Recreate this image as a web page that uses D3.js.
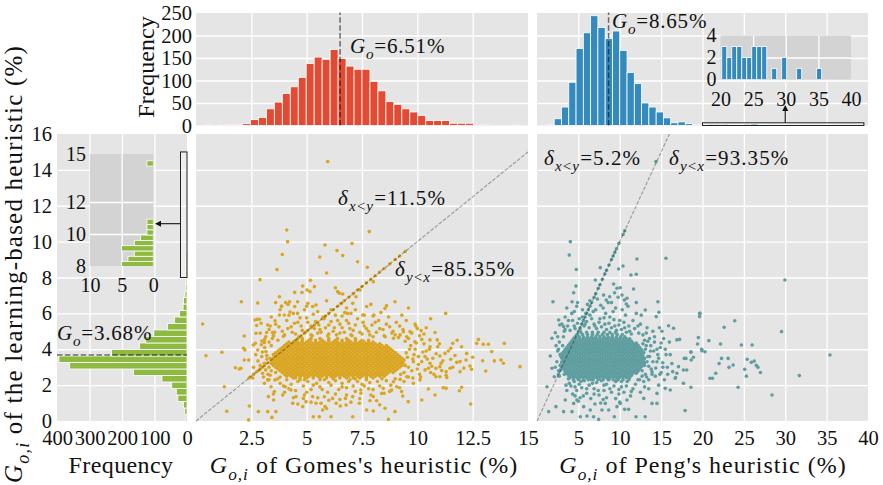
<!DOCTYPE html>
<html><head><meta charset="utf-8">
<script src="https://cdn.jsdelivr.net/npm/d3@7"></script>
<style>body{margin:0;background:#fff}</style>
</head><body><svg id="c" width="883" height="485"></svg>
<script>
// ---------------- DATA ----------------
const gomesHistStart = 0.3, gomesHistWidth = 0.36;
const gomesCounts = [1,0,1,1,2,4,13,18,37,52,71,86,107,138,152,147,169,149,132,125,125,98,77,53,47,37,30,22,11,11,11,5,5,5,0,2,0,0,0,1];
const pengHistStart = 1.2, pengHistWidth = 0.88;
const pengCounts = [2,15,41,96,171,206,244,218,193,210,167,118,93,50,41,30,17,6,8,4,2,2,3,3,3,2,2,3,4,2,1,0,2,0,1,0,0,0,1,0];
const learnHistStart = 0, learnHistWidth = 0.3625;
const learnCounts = [3,7,11,28,33,47,77,165,361,394,232,146,127,102,60,38,23,12,11,6,4,3,5,4,3,5,2,2,1,1,0,0,0,0,0,0,0,0,0,1];
const pengInsetStart = 20.2, pengInsetWidth = 0.765;
const pengInsetCounts = [3,2,3,3,2,2,3,3,3,0,1,0,2,0,0,1,0,0,0,1];
const learnInsetStart = 7.945, learnInsetWidth = 0.3315;
const learnInsetCounts = [5,4,3,5,3,2,1,1,1,0,0,0,0,0,0,0,0,0,0,1];
const means = {gomes: 6.51, peng: 8.65, learn: 3.68};
const deltas = {gomesXY: "11.5%", gomesYX: "85.35%", pengXY: "5.2%", pengYX: "93.35%"};

const gomesTicks = [2.5, 5, 7.5, 10, 12.5, 15];
const pengTicks = [5, 10, 15, 20, 25, 30, 35, 40];
const yTicks = [0, 2, 4, 6, 8, 10, 12, 14, 16];
const freqTicks = [0, 50, 100, 150, 200, 250];
const leftFreqTicks = [400, 300, 200, 100, 0];
const pengInsetXTicks = [20, 25, 30, 35, 40];
const pengInsetYTicks = [0, 2, 4];
const learnInsetXTicks = [10, 5, 0];
const learnInsetYTicks = [8, 10, 12, 15];

// scattered points (x = heuristic, y = learning-based)
const gomesPts = [[5.95,14.46],[4.1,10.65],[4.14,10.0],[5.83,9.81],[6.37,9.5],[7.05,9.89],[6.63,9.22],[5.59,9.14],[3.9,9.28],[7.3,8.88],[3.66,8.44],[5.9,8.25],[2.89,7.88],[5.17,7.84],[2.05,6.65],[2.79,6.58],[0.3,5.41],[0.45,3.64],[1.17,3.83],[1.28,1.91],[1.39,0.54],[2.41,0.84],[2.82,0.52],[3.43,0.2],[2.38,0.06],[2.18,4.74],[1.78,2.97],[1.96,2.9],[2.03,2.94],[2.18,3.4],[2.38,3.4],[2.15,4.05],[2.21,3.96],[2.56,2.4],[2.67,5.63],[2.76,5.67],[2.86,5.67],[2.74,5.32],[2.71,4.89],[2.68,4.33],[2.59,4.24],[2.79,3.96],[3.27,1.36],[3.51,1.17],[3.61,0.52],[3.24,0.52],[3.09,2.1],[3.39,1.91],[3.77,6.93],[4.05,6.6],[3.87,6.41],[4.16,6.5],[4.23,6.65],[4.46,7.17],[4.59,6.65],[4.82,7.53],[4.79,7.16],[5.02,7.3],[5.35,7.49],[5.15,7.21],[5.05,6.56],[5.27,6.38],[5.42,6.47],[6.3,7.43],[6.4,7.21],[6.48,7.12],[6.63,7.08],[6.57,6.56],[6.72,6.04],[6.85,6.0],[7.08,6.56],[7.23,6.93],[7.41,7.3],[7.53,5.91],[3.86,6.38],[4.46,6.38],[3.77,5.91],[3.99,5.91],[4.25,6.08],[4.59,6.0],[2.94,5.45],[3.24,5.35],[3.57,5.59],[3.19,4.93],[3.46,4.93],[2.97,4.46],[3.09,4.37],[3.16,3.87],[2.97,3.59],[3.09,3.22],[2.86,2.84],[3.01,2.66],[3.24,2.29],[3.57,2.29],[3.54,1.64],[3.92,1.45],[4.04,1.91],[4.29,1.73],[4.52,1.36],[4.37,0.99],[4.82,0.8],[4.97,1.08],[4.85,1.26],[5.27,1.36],[5.42,0.99],[5.65,0.99],[5.3,0.24],[5.57,0.24],[6.1,0.24],[5.72,0.61],[5.83,0.8],[6.17,1.26],[6.33,0.99],[6.52,0.84],[6.78,0.89],[7.08,0.24],[6.75,1.26],[7.08,1.36],[7.38,0.99],[7.45,1.73],
[7.83,10.56],[7.74,8.57],[8.01,7.77],[8.61,6.43],[8.54,6.28],[8.99,6.65],[7.71,6.38],[8.04,5.91],[11.28,6.0],[9.93,5.3],[10.17,5.04],[10.8,4.93],[9.37,4.98],[9.67,4.98],[9.22,4.8],[9.52,4.7],[8.92,4.61],[9.89,4.42],[10.2,4.55],[10.57,4.52],[10.9,4.52],[10.57,4.14],[10.92,4.14],[11.6,4.33],[11.51,4.05],[11.25,3.77],[11.02,3.62],[12.0,4.14],[12.23,3.77],[11.93,3.31],[12.2,3.4],[11.78,3.27],[11.51,3.44],[11.07,3.22],[12.76,4.55],[12.68,4.33],[12.98,4.28],[13.21,4.28],[13.93,4.33],[13.36,3.87],[12.95,3.36],[13.48,3.35],[13.78,3.4],[13.89,3.22],[14.64,3.03],[13.09,2.79],[12.45,2.88],[12.38,3.07],[11.93,2.75],[11.48,2.94],[11.3,2.75],[11.1,2.81],[11.02,3.03],[10.84,2.94],[10.5,2.94],[10.57,3.22],[10.35,3.59],[10.05,3.59],[9.82,3.31],[11.02,2.47],[10.84,2.47],[11.33,2.42],[11.17,1.86],[11.3,1.82],[12.0,1.88],[11.9,1.69],[10.5,1.78],[10.8,1.45],[10.2,1.17],[9.59,1.08],[9.34,1.39],[9.29,1.64],[9.07,1.91],[8.84,1.73],[8.46,1.82],[8.39,1.54],[8.01,1.36],[7.86,1.13],[8.16,1.13],[8.54,0.71],[8.01,0.56],[7.71,0.61],[8.99,0.52],[12.41,0.95],[9.82,2.1],[10.12,2.29],[9.52,2.47],[9.22,2.32],[8.92,2.19],[8.69,0.09],
[3.3,5.1],[3.6,5.4],[3.9,5.0],[4.1,5.6],[4.3,5.25],[4.6,5.5],[4.8,5.05],[5.0,5.75],[5.2,5.3],[5.4,5.55],[5.6,5.1],[5.8,5.7],[6.0,5.35],[6.2,5.0],[6.4,5.6],[6.6,5.2],[6.9,5.45],[7.1,5.05],[7.3,5.7],[7.6,5.3],[7.8,5.0],[8.1,5.5],[8.3,5.15],[8.6,5.4],[8.9,5.0],[9.2,5.3],[9.5,5.6],[3.5,4.75],[4.0,4.8],[4.5,4.85],[5.2,4.8],[5.5,4.9],[6.0,4.85],[6.5,4.9],[7.0,4.8],[7.5,4.85],[8.0,4.7],[8.5,4.75],[9.0,4.8],[9.6,4.6],[10.1,4.75],[3.1,4.55],[2.9,4.9],[4.4,6.0],[5.5,6.1],[6.3,5.9],[7.2,6.2],[8.0,5.85],[6.8,6.3],[5.9,6.7],[4.9,6.2],[3.4,5.8],[8.7,5.8],[9.9,5.4],[10.4,5.2],
[3.8,2.1],[4.2,1.8],[4.6,2.2],[5.0,1.6],[5.3,2.0],[5.7,1.75],[6.0,2.15],[6.3,1.5],[6.6,1.9],[6.9,2.2],[7.2,1.65],[7.5,2.05],[7.8,1.8],[8.2,2.2],[8.5,1.55],[8.8,2.0],[5.5,1.3],[6.5,1.2],[4.4,1.3],[7.0,1.05],[3.3,2.3],[9.4,2.2],[9.8,2.4],[5.9,0.7],[4.9,2.3],[6.2,2.35],[7.7,2.3],[3.5,1.5],[4.5,2.4],[5.6,2.3],[7.2,2.35],[8.4,2.35],
[9.4,2.7],[9.6,3.0],[9.8,3.45],[9.5,3.8],[9.7,4.2],[10.0,2.9],[10.2,3.3],[9.9,4.0],[10.4,3.9],[10.1,2.6],[9.35,3.25],[9.45,4.45],[10.6,2.7],[10.3,4.3],[9.6,2.45],[10.7,3.5],
[3.3,3.0],[3.5,3.7],[3.4,4.2],[3.6,2.7],[3.2,3.45],[3.7,4.5],[3.55,3.25],[3.35,2.55],[3.8,2.45],[3.45,4.6],
[3.15,4.7],[3.35,5.3],[3.55,4.95],[3.75,5.25],[3.95,4.72],[4.15,5.15],[4.35,4.95],[4.45,5.45],[4.65,4.7],[4.75,5.3],[4.95,4.95],[5.05,5.5],[5.25,4.75],[5.35,5.15],[5.55,5.35],[5.65,4.95],[5.85,5.2],[5.95,4.75],[6.1,5.55],[6.25,5.2],[6.35,4.8],[6.5,5.4],[6.7,4.95],[6.8,5.6],[6.95,5.15],[7.05,4.75],[7.2,5.35],[7.4,4.95],[7.55,5.5],[7.7,5.15],[7.85,4.8],[7.95,5.35],[8.15,4.95],[8.25,5.6],[8.45,5.1],[8.55,4.7],[8.75,5.25],[8.85,4.9],[9.05,5.5],[9.15,4.65],[9.35,5.1],[9.75,4.9],[10.0,5.15],[10.3,4.85],[4.2,5.9],[4.7,5.75],[5.3,5.95],[5.75,5.8],[6.6,5.85],[7.0,6.0],[7.6,5.9],[8.35,6.05],[9.3,5.9],[3.8,6.2],[5.0,6.4],[6.1,6.2],[7.9,6.5],[9.6,6.3],[10.6,5.7],[3.6,6.6],
[3.7,2.35],[3.95,1.95],[4.1,2.3],[4.3,2.05],[4.5,1.7],[4.7,2.3],[4.85,1.95],[5.05,2.2],[5.2,1.75],[5.45,2.1],[5.6,1.9],[5.8,2.3],[5.95,1.6],[6.1,2.0],[6.3,2.25],[6.45,1.75],[6.6,2.1],[6.8,1.85],[6.95,2.3],[7.1,1.95],[7.3,2.2],[7.45,1.55],[7.6,1.95],[7.85,2.15],[8.0,1.75],[8.3,1.95],[8.6,2.25],[8.75,1.65],[9.0,2.35],[9.2,1.85],[4.0,1.6],[4.9,1.45],[5.8,1.35],[6.8,1.45],[7.9,1.45],[5.2,1.05],[6.0,1.15],[7.4,1.25],[4.6,0.95],[8.3,0.9],
[9.25,2.6],[9.45,3.1],[9.55,3.55],[9.65,4.0],[9.75,2.8],[9.85,3.7],[9.95,4.35],[10.05,3.15],[10.15,2.45],[10.25,3.85],[10.35,2.85],[10.45,3.45],[10.55,4.0],[10.65,3.05],[10.75,2.6],[10.85,3.75],[11.0,4.3],[11.15,3.35],[11.3,2.55],[11.4,3.9],[11.6,3.0],[11.7,3.65],[12.1,2.95],[12.5,3.55],[11.8,4.5],
[2.9,3.1],[3.0,3.85],[3.1,4.1],[3.15,2.85],[3.2,3.65],[3.3,4.4],[3.25,2.6],[2.8,3.35],[2.95,4.25],[3.4,2.8],[3.5,4.75],[2.7,3.7],[3.05,2.45],[3.35,3.5],[2.6,3.0]];
const gomesDiag = [2.4,2.45,2.6,2.75,2.9,3.0,3.1,3.25,3.4,3.5,3.6,3.75,3.9,4.0,4.15,4.3,4.45,4.6,4.75,4.9,5.05,5.2,5.35,5.5,5.7,5.85,6.0,6.2,6.4,6.55,6.7,6.9,7.1,7.3,7.5,7.7,7.9,8.1,8.3,8.5,8.75,9.0,9.2,9.45];
const gomesCoreY = [2.4,2.5,2.6,2.7,2.8,2.9,3.0,3.1,3.2,3.3,3.4,3.5,3.6,3.7,3.8,3.9,4.0,4.1,4.2,4.3,4.4,4.5,4.6];
const gomesCoreX = [
[4.4,4.7,5.0,5.3,5.6,5.9,6.2,6.5,6.8,7.1,7.4,7.7,8.0],
[4.1,4.3,4.5,4.7,4.9,5.1,5.3,5.5,5.7,5.9,6.1,6.3,6.5,6.7,6.9,7.1,7.3,7.5,7.7,7.9,8.1,8.3,8.5],
[4.0,4.2,4.4,4.6,4.8,5.0,5.2,5.4,5.6,5.8,6.0,6.2,6.4,6.6,6.8,7.0,7.2,7.4,7.6,7.8,8.0,8.2,8.4,8.6],
[3.9,4.1,4.3,4.5,4.7,4.9,5.1,5.3,5.5,5.7,5.9,6.1,6.3,6.5,6.7,6.9,7.1,7.3,7.5,7.7,7.9,8.1,8.3,8.5,8.7,8.9],
[3.8,4.0,4.2,4.4,4.6,4.8,5.0,5.2,5.4,5.6,5.8,6.0,6.2,6.4,6.6,6.8,7.0,7.2,7.4,7.6,7.8,8.0,8.2,8.4,8.6,8.8,9.0],
[3.7,3.9,4.1,4.3,4.5,4.7,4.9,5.1,5.3,5.5,5.7,5.9,6.1,6.3,6.5,6.7,6.9,7.1,7.3,7.5,7.7,7.9,8.1,8.3,8.5,8.7,8.9,9.1],
[3.6,3.8,4.0,4.2,4.4,4.6,4.8,5.0,5.2,5.4,5.6,5.8,6.0,6.2,6.4,6.6,6.8,7.0,7.2,7.4,7.6,7.8,8.0,8.2,8.4,8.6,8.8,9.0,9.2],
[3.5,3.7,3.9,4.1,4.3,4.5,4.7,4.9,5.1,5.3,5.5,5.7,5.9,6.1,6.3,6.5,6.7,6.9,7.1,7.3,7.5,7.7,7.9,8.1,8.3,8.5,8.7,8.9,9.1,9.3],
[3.4,3.6,3.8,4.0,4.2,4.4,4.6,4.8,5.0,5.2,5.4,5.6,5.8,6.0,6.2,6.4,6.6,6.8,7.0,7.2,7.4,7.6,7.8,8.0,8.2,8.4,8.6,8.8,9.0,9.2],
[3.5,3.7,3.9,4.1,4.3,4.5,4.7,4.9,5.1,5.3,5.5,5.7,5.9,6.1,6.3,6.5,6.7,6.9,7.1,7.3,7.5,7.7,7.9,8.1,8.3,8.5,8.7,8.9,9.1,9.3],
[3.4,3.6,3.8,4.0,4.2,4.4,4.6,4.8,5.0,5.2,5.4,5.6,5.8,6.0,6.2,6.4,6.6,6.8,7.0,7.2,7.4,7.6,7.8,8.0,8.2,8.4,8.6,8.8,9.0,9.2,9.4],
[3.5,3.7,3.9,4.1,4.3,4.5,4.7,4.9,5.1,5.3,5.5,5.7,5.9,6.1,6.3,6.5,6.7,6.9,7.1,7.3,7.5,7.7,7.9,8.1,8.3,8.5,8.7,8.9,9.1,9.3],
[3.6,3.8,4.0,4.2,4.4,4.6,4.8,5.0,5.2,5.4,5.6,5.8,6.0,6.2,6.4,6.6,6.8,7.0,7.2,7.4,7.6,7.8,8.0,8.2,8.4,8.6,8.8,9.0,9.2],
[3.5,3.7,3.9,4.1,4.3,4.5,4.7,4.9,5.1,5.3,5.5,5.7,5.9,6.1,6.3,6.5,6.7,6.9,7.1,7.3,7.5,7.7,7.9,8.1,8.3,8.5,8.7,8.9,9.1],
[3.6,3.8,4.0,4.2,4.4,4.6,4.8,5.0,5.2,5.4,5.6,5.8,6.0,6.2,6.4,6.6,6.8,7.0,7.2,7.4,7.6,7.8,8.0,8.2,8.4,8.6,8.8,9.0],
[3.7,3.9,4.1,4.3,4.5,4.7,4.9,5.1,5.3,5.5,5.7,5.9,6.1,6.3,6.5,6.7,6.9,7.1,7.3,7.5,7.7,7.9,8.1,8.3,8.5,8.7,8.9],
[3.8,4.0,4.2,4.4,4.6,4.8,5.0,5.2,5.4,5.6,5.8,6.0,6.2,6.4,6.6,6.8,7.0,7.2,7.4,7.6,7.8,8.0,8.2,8.4,8.6,8.8],
[3.9,4.1,4.3,4.5,4.7,4.9,5.1,5.3,5.5,5.7,5.9,6.1,6.3,6.5,6.7,6.9,7.1,7.3,7.5,7.7,7.9,8.1,8.3,8.5,8.7],
[4.0,4.2,4.4,4.6,4.8,5.0,5.2,5.4,5.6,5.8,6.0,6.2,6.4,6.6,6.8,7.0,7.2,7.4,7.6,7.8,8.0,8.2,8.4,8.6],
[4.1,4.3,4.5,4.7,4.9,5.1,5.3,5.5,5.7,5.9,6.1,6.3,6.5,6.7,6.9,7.1,7.3,7.5,7.7,7.9,8.1,8.3],
[4.2,4.4,4.6,4.8,5.0,5.2,5.4,5.6,5.8,6.0,6.2,6.4,6.6,6.8,7.0,7.2,7.4,7.6,7.8,8.0],
[4.5,4.8,5.1,5.4,5.7,6.0,6.3,6.6,6.9,7.2,7.5,7.8],
[4.8,5.2,5.6,6.0,6.4,6.8,7.2]];

const pengPts = [[14.37,14.46],[4.03,10.0],[3.9,9.25],[4.75,8.45],[12.08,9.03],[15.58,9.07],[7.65,8.55],[9.86,8.47],[10.39,8.64],[11.35,8.14],[12.0,8.18],[11.67,7.36],[7.05,7.86],[4.71,7.52],[4.43,7.15],[4.23,6.65],[1.93,6.65],[9.26,7.64],[9.66,7.4],[10.06,7.43],[9.38,7.15],[10.27,7.02],[10.55,6.74],[10.87,6.84],[8.37,6.74],[8.78,6.93],[8.05,7.02],[10.79,6.52],[12.0,6.6],[14.61,6.65],[14.73,6.06],[13.08,6.19],[14.41,5.82],[12.0,6.0],[19.65,6.0],[19.65,5.82],[15.9,5.31],[16.5,5.17],[16.9,4.52],[17.23,4.55],[19.5,4.65],[19.4,4.29],[18.6,3.83],[19.93,3.92],[18.0,3.49],[18.64,3.4],[17.1,3.03],[17.7,2.84],[16.9,2.66],[18.1,2.84],[18.6,1.88],[17.9,0.58],[16.7,2.38],[17.7,2.1],[16.1,1.73],[15.5,1.82],[14.5,1.54],[14.5,0.98],[13.9,0.98],[12.9,1.26],[13.08,0.24],[11.96,0.24],[11.07,0.65],[10.87,1.17],[9.34,0.24],[7.45,0.09],[6.84,0.24],[6.04,0.28],[5.23,0.24],[4.23,0.52],[3.22,0.52],[2.29,0.8],[1.41,0.52],[1.21,1.91],[3.42,1.17],[4.43,0.98],[4.83,1.17],[5.64,0.8],[6.44,0.61],[7.85,0.61],[8.25,0.98],[8.66,0.61],[9.66,0.8],[10.06,0.98],[10.59,0.65],[1.61,3.62],[1.81,2.94],[2.09,2.47],[1.81,4.61],[2.21,4.92],[2.62,5.63],[2.74,5.35],[3.22,5.26],
[29.95,7.86],[29.55,4.98],[23.9,5.59],[22.62,5.22],[20.77,4.48],[22.18,4.29],[24.7,4.24],[26.0,4.24],[22.3,3.49],[23.1,3.49],[23.2,2.99],[23.7,3.12],[25.4,3.44],[25.9,3.27],[26.25,3.34],[26.7,2.99],[25.1,2.88],[20.9,2.38],[21.2,2.38],[24.3,1.88],[28.4,1.45],[31.7,2.53],[35.4,3.68],[20.3,3.86],[21.6,2.66],[22.0,3.2],[25.3,2.5],[26.5,3.1],[27.0,2.7],
[19.9,4.0],[19.7,6.0],[18.6,3.86],[18.9,3.55],[17.8,3.49],[16.75,2.42],
[13.0,3.1],[13.4,3.6],[13.2,4.2],[13.8,2.9],[14.1,3.9],[13.6,4.6],[14.5,3.3],[14.9,4.1],[15.2,3.0],[14.3,2.5],[13.1,2.6],[15.6,3.7],[16.0,4.4],[15.8,2.6],[14.0,5.0],[13.3,5.2],[12.8,4.8],[12.9,2.2],[14.7,2.0],[13.5,1.8],[16.3,3.2],[12.2,5.3],[11.6,5.6],[12.6,5.9],[3.0,3.3],[2.8,3.7],[3.1,4.2],[3.3,2.6],[2.9,2.9],[3.2,4.7],[2.6,4.0],[3.4,5.1],[3.0,5.4],[3.8,5.6],[4.5,5.3],[5.1,5.7],[5.8,5.4],[6.4,5.9],[7.0,5.3],[7.6,5.7],[8.2,5.4],[8.8,5.8],[9.4,5.3],[10.0,5.6],[10.6,5.2],[11.2,5.0],[4.2,6.0],[5.5,6.2],[6.8,6.1],[8.0,6.3],[9.2,6.1],[10.3,6.2],[3.6,6.3],[4.9,6.6],[6.1,6.5],[7.3,6.8],[8.6,6.6],[9.8,6.9],[11.0,6.4],[3.9,2.1],[4.6,1.9],[5.3,2.2],[6.0,1.8],[6.7,2.1],[7.4,1.7],[8.1,2.0],[8.8,1.8],[9.5,2.2],[10.2,1.9],[10.9,2.2],[11.6,1.8],[12.2,2.3],[4.3,1.5],[5.6,1.4],[6.9,1.5],[8.4,1.3],[9.9,1.5],[11.3,1.4],[5.0,1.1],[7.7,1.0],[3.6,1.7],[12.5,1.6],
[13.3,3.3],[13.7,3.9],[14.2,4.4],[13.9,2.6],[12.9,3.8],[14.6,3.7],[15.0,2.7],[13.5,2.3],[12.7,2.5],[15.3,4.6],[14.8,5.2],[13.0,4.5],
[3.3,5.0],[3.7,5.3],[4.0,5.05],[4.3,5.6],[4.6,5.15],[4.9,5.45],[5.2,5.1],[5.5,5.8],[5.7,5.3],[6.0,5.55],[6.3,5.2],[6.6,5.7],[6.9,5.4],[7.2,5.15],[7.5,5.5],[7.8,5.25],[8.1,5.75],[8.4,5.1],[8.7,5.45],[9.0,5.2],[9.3,5.65],[9.6,5.05],[9.9,5.35],[10.2,5.1],[10.5,5.5],[10.8,4.95],[11.1,5.3],[11.4,4.85],[11.8,5.15],[12.3,4.9],[4.5,6.1],[5.9,6.0],[7.1,6.2],[8.3,6.0],[9.5,6.3],[10.7,5.9],[3.4,5.8],[12.5,5.4],[4.8,6.4],[7.7,6.45],[6.4,6.7],[9.0,6.6],
[3.8,2.35],[4.1,1.95],[4.5,2.2],[4.8,1.7],[5.1,2.05],[5.4,1.85],[5.7,2.25],[6.0,1.55],[6.3,2.0],[6.6,2.3],[6.9,1.8],[7.2,2.15],[7.5,1.45],[7.8,2.25],[8.1,1.7],[8.4,2.05],[8.7,2.3],[9.0,1.6],[9.3,1.95],[9.6,2.25],[9.9,1.75],[10.2,2.2],[10.5,1.6],[10.8,1.95],[11.1,2.3],[11.4,1.65],[11.9,2.05],[12.4,2.3],[13.0,1.9],[5.2,1.3],[6.5,1.25],[8.0,1.2],[9.5,1.25],[3.5,2.0],[4.6,1.4],[7.0,0.95],[10.0,1.05],
[12.7,2.8],[12.9,3.45],[13.1,4.0],[13.25,2.45],[13.4,4.45],[13.5,3.05],[13.6,3.6],[13.75,4.2],[13.9,2.75],[14.0,3.3],[14.2,4.7],[14.35,2.95],[14.5,4.0],[14.7,3.5],[14.85,2.6],[15.0,4.35],[15.2,3.25],[15.4,2.3],[15.5,4.0],[15.75,3.0],[16.1,3.7],[16.4,2.75],[12.8,4.3],[13.2,4.9],[15.1,5.0],
[2.4,3.3],[2.5,3.9],[2.6,2.8],[2.7,4.4],[2.8,3.1],[2.9,3.6],[2.3,4.2],[2.7,2.5],[2.2,3.0],[2.5,4.7]];
const pengDiag = [2.6,2.8,3.0,3.2,3.4,3.6,3.8,4.0,4.2,4.4,4.6,4.8,5.0,5.2,5.4,5.6,5.8,6.0,6.2,6.4,6.6,6.9,7.1,7.4,7.6,7.9,8.2,8.4,8.7,9.0,9.2,9.4,9.6,9.9,10.4,10.6];
const pengCoreY = [2.3,2.42,2.54,2.66,2.78,2.9,3.02,3.14,3.26,3.38,3.5,3.62,3.74,3.86,3.98,4.1,4.22,4.34,4.46,4.58,4.7,4.82,4.94];
const pengCoreX = [
[4.4,5.0,5.6,6.2,6.8,7.4,8.0,8.6,9.2,9.8,10.4],
[4.0,4.4,4.8,5.2,5.6,6.0,6.4,6.8,7.2,7.6,8.0,8.4,8.8,9.2,9.6,10.0,10.4,10.8,11.2],
[3.8,4.2,4.6,5.0,5.4,5.8,6.2,6.6,7.0,7.4,7.8,8.2,8.6,9.0,9.4,9.8,10.2,10.6,11.0,11.4],
[3.6,4.0,4.4,4.8,5.2,5.6,6.0,6.4,6.8,7.2,7.6,8.0,8.4,8.8,9.2,9.6,10.0,10.4,10.8,11.2,11.6,12.0],
[3.4,3.8,4.2,4.6,5.0,5.4,5.8,6.2,6.6,7.0,7.4,7.8,8.2,8.6,9.0,9.4,9.8,10.2,10.6,11.0,11.4,11.8,12.2],
[3.2,3.6,4.0,4.4,4.8,5.2,5.6,6.0,6.4,6.8,7.2,7.6,8.0,8.4,8.8,9.2,9.6,10.0,10.4,10.8,11.2,11.6,12.0,12.4],
[3.0,3.4,3.8,4.2,4.6,5.0,5.4,5.8,6.2,6.6,7.0,7.4,7.8,8.2,8.6,9.0,9.4,9.8,10.2,10.6,11.0,11.4,11.8,12.2,12.6],
[3.2,3.6,4.0,4.4,4.8,5.2,5.6,6.0,6.4,6.8,7.2,7.6,8.0,8.4,8.8,9.2,9.6,10.0,10.4,10.8,11.2,11.6,12.0,12.4,12.8],
[3.0,3.4,3.8,4.2,4.6,5.0,5.4,5.8,6.2,6.6,7.0,7.4,7.8,8.2,8.6,9.0,9.4,9.8,10.2,10.6,11.0,11.4,11.8,12.2,12.6,13.0],
[3.2,3.6,4.0,4.4,4.8,5.2,5.6,6.0,6.4,6.8,7.2,7.6,8.0,8.4,8.8,9.2,9.6,10.0,10.4,10.8,11.2,11.6,12.0,12.4,12.8],
[3.0,3.4,3.8,4.2,4.6,5.0,5.4,5.8,6.2,6.6,7.0,7.4,7.8,8.2,8.6,9.0,9.4,9.8,10.2,10.6,11.0,11.4,11.8,12.2,12.6,13.0],
[3.2,3.6,4.0,4.4,4.8,5.2,5.6,6.0,6.4,6.8,7.2,7.6,8.0,8.4,8.8,9.2,9.6,10.0,10.4,10.8,11.2,11.6,12.0,12.4,12.8],
[3.0,3.4,3.8,4.2,4.6,5.0,5.4,5.8,6.2,6.6,7.0,7.4,7.8,8.2,8.6,9.0,9.4,9.8,10.2,10.6,11.0,11.4,11.8,12.2,12.6],
[3.2,3.6,4.0,4.4,4.8,5.2,5.6,6.0,6.4,6.8,7.2,7.6,8.0,8.4,8.8,9.2,9.6,10.0,10.4,10.8,11.2,11.6,12.0,12.4,12.8],
[3.4,3.8,4.2,4.6,5.0,5.4,5.8,6.2,6.6,7.0,7.4,7.8,8.2,8.6,9.0,9.4,9.8,10.2,10.6,11.0,11.4,11.8,12.2,12.6],
[3.6,4.0,4.4,4.8,5.2,5.6,6.0,6.4,6.8,7.2,7.6,8.0,8.4,8.8,9.2,9.6,10.0,10.4,10.8,11.2,11.6,12.0,12.4],
[3.8,4.2,4.6,5.0,5.4,5.8,6.2,6.6,7.0,7.4,7.8,8.2,8.6,9.0,9.4,9.8,10.2,10.6,11.0,11.4,11.8,12.2],
[4.0,4.4,4.8,5.2,5.6,6.0,6.4,6.8,7.2,7.6,8.0,8.4,8.8,9.2,9.6,10.0,10.4,10.8,11.2,11.6,12.0],
[4.2,4.6,5.0,5.4,5.8,6.2,6.6,7.0,7.4,7.8,8.2,8.6,9.0,9.4,9.8,10.2,10.6,11.0,11.4],
[4.4,4.8,5.2,5.6,6.0,6.4,6.8,7.2,7.6,8.0,8.4,8.8,9.2,9.6,10.0,10.4,10.8,11.2],
[4.6,5.1,5.6,6.1,6.6,7.1,7.6,8.1,8.6,9.1,9.6,10.1,10.6],
[4.9,5.5,6.1,6.7,7.3,7.9,8.5,9.1,9.7,10.3],
[5.3,6.0,6.7,7.4,8.1,8.8,9.5]];

// ---------------- DRAWING ----------------
const FONT = "'Liberation Serif','Times New Roman',serif";
const BG = "#E5E5E5", INSET_BG = "#D3D3D3";
const C_RED = "#E24A33", C_BLUE = "#348ABD", C_GREEN = "#8EBA42";
const C_GOLD = "#DAA520", C_TEAL = "#5F9EA0";
const svg = d3.select("#c").style("font-family", FONT);

const xG = d3.scaleLinear().domain([0, 15]).range([196, 528]);
const xP = d3.scaleLinear().domain([0, 40]).range([537, 868]);
const yS = d3.scaleLinear().domain([0, 16]).range([421, 134]);
const yH = d3.scaleLinear().domain([0, 250]).range([125.5, 13]);
const xL = d3.scaleLinear().domain([400, 0]).range([57, 187]);
const xPI = d3.scaleLinear().domain([20, 40]).range([720.5, 851]);
const yPI = d3.scaleLinear().domain([0, 4]).range([79.5, 35.5]);
const xLI = d3.scaleLinear().domain([10, 0]).range([90, 153.3]);
const yLI = d3.scaleLinear().domain([8, 15]).range([266, 154]);

function bg(xs, ys, fill) {
  const [x0, x1] = d3.extent(xs.range()), [y0, y1] = d3.extent(ys.range());
  svg.append("rect").attr("x", x0).attr("y", y0).attr("width", x1 - x0).attr("height", y1 - y0).attr("fill", fill);
}
function grid(xs, xt, ys, yt) {
  const [y0, y1] = d3.extent(ys.range()), [x0, x1] = d3.extent(xs.range());
  const g1 = svg.append("g").attr("transform", `translate(0,${y1})`)
    .call(d3.axisBottom(xs).tickValues(xt).tickSize(-(y1 - y0)).tickFormat(""));
  const g2 = svg.append("g").attr("transform", `translate(${x0},0)`)
    .call(d3.axisLeft(ys).tickValues(yt).tickSize(-(x1 - x0)).tickFormat(""));
  [g1, g2].forEach(g => { g.select(".domain").remove(); g.selectAll("line").attr("stroke", "#fff").attr("stroke-width", 1.3); });
}
function styleAxis(g, size) {
  g.select(".domain").remove();
  g.selectAll("line").remove();
  g.selectAll("text").attr("font-family", FONT).attr("font-size", size).attr("fill", "#111");
}
function axisB(xs, ticks, y, pad, size) {
  const g = svg.append("g").attr("transform", `translate(0,${y})`)
    .call(d3.axisBottom(xs).tickValues(ticks).tickSize(0).tickPadding(pad).tickFormat(d => String(d)));
  styleAxis(g, size);
}
function axisL(ys, ticks, x, pad, size) {
  const g = svg.append("g").attr("transform", `translate(${x},0)`)
    .call(d3.axisLeft(ys).tickValues(ticks).tickSize(0).tickPadding(pad).tickFormat(d => String(d)));
  styleAxis(g, size);
}
// math-ish text: parts [text, style] style: "" | "i" | "s" | "si"
function mtext(parent, x, y, parts, size, attrs) {
  const t = parent.append("text").attr("x", x).attr("y", y).attr("font-size", size).attr("fill", "#111");
  if (attrs) Object.entries(attrs).forEach(([k, v]) => t.attr(k, v));
  let sub = false;
  parts.forEach(([s, st]) => {
    const ts = t.append("tspan").text(s);
    const isSub = st.includes("s");
    if (st.includes("i")) ts.attr("font-style", "italic");
    if (isSub) ts.attr("font-size", size * 0.72);
    const shift = size * 0.28;
    if (isSub && !sub) ts.attr("dy", shift);
    if (!isSub && sub) ts.attr("dy", -shift);
    sub = isSub;
  });
  return t;
}
const dashMean = g => g.attr("stroke", "#000").attr("stroke-opacity", 0.55).attr("stroke-width", 1.5).attr("stroke-dasharray", "5.5,2.4");

// ---- top-left histogram (Gomes)
bg(xG, yH, BG);
grid(xG, [2.5, 5, 7.5, 10, 12.5], yH, [50, 100, 150, 200]);
svg.append("g").selectAll("rect").data(gomesCounts.map((c, i) => ({c, i})).filter(d => d.c > 0)).join("rect")
  .attr("x", d => xG(gomesHistStart + d.i * gomesHistWidth)).attr("width", xG(gomesHistWidth) - xG(0))
  .attr("y", d => yH(d.c)).attr("height", d => yH(0) - yH(d.c))
  .attr("fill", C_RED).attr("stroke", "#fff").attr("stroke-width", 0.8);
svg.append("line").attr("x1", xG(means.gomes)).attr("x2", xG(means.gomes)).attr("y1", yH.range()[0]).attr("y2", 12.5).call(dashMean);
mtext(svg, 350, 53, [["G", "i"], ["o", "si"], ["=6.51%", ""]], 21, {"letter-spacing": 0.8});
axisL(yH, freqTicks, 196, 4, 20.5);
svg.append("text").attr("transform", "translate(154,67) rotate(-90)").attr("text-anchor", "middle")
  .attr("font-size", 24).attr("fill", "#111").text("Frequency");

// ---- top-right histogram (Peng)
bg(xP, yH, BG);
grid(xP, [5, 10, 15, 20, 25, 30, 35], yH, [50, 100, 150, 200]);
svg.append("g").selectAll("rect").data(pengCounts.map((c, i) => ({c, i})).filter(d => d.c > 0)).join("rect")
  .attr("x", d => xP(pengHistStart + d.i * pengHistWidth)).attr("width", xP(pengHistWidth) - xP(0))
  .attr("y", d => yH(d.c)).attr("height", d => yH(0) - yH(d.c))
  .attr("fill", C_BLUE).attr("stroke", "#fff").attr("stroke-width", 0.8);
svg.append("line").attr("x1", xP(means.peng)).attr("x2", xP(means.peng)).attr("y1", yH.range()[0]).attr("y2", 12.5).call(dashMean);
mtext(svg, 612, 28, [["G", "i"], ["o", "si"], ["=8.65%", ""]], 21, {"letter-spacing": 0.8});
svg.append("rect").attr("x", xP(20)).attr("y", yH(6)).attr("width", xP(39.5) - xP(20)).attr("height", yH(0) - yH(6))
  .attr("fill", "#fff").attr("fill-opacity", 0.55).attr("stroke", "#222").attr("stroke-width", 1);
svg.append("line").attr("x1", xP(30)).attr("x2", xP(30)).attr("y1", yH(6)).attr("y2", 110).attr("stroke", "#111").attr("stroke-width", 1.1);
svg.append("path").attr("d", `M${xP(30)},105 l-3,6 l6,0 z`).attr("fill", "#111");
// Peng inset
bg(xPI, yPI, INSET_BG);
grid(xPI, [25, 30, 35], yPI, [2]);
svg.append("clipPath").attr("id", "pclip").append("rect").attr("x", 720.5).attr("y", 35.5).attr("width", 130.5).attr("height", 44);
svg.append("g").attr("clip-path", "url(#pclip)").selectAll("rect").data(pengInsetCounts.map((c, i) => ({c, i})).filter(d => d.c > 0)).join("rect")
  .attr("x", d => xPI(pengInsetStart + d.i * pengInsetWidth)).attr("width", xPI(pengInsetWidth) - xPI(0))
  .attr("y", d => yPI(d.c)).attr("height", d => yPI(0) - yPI(d.c))
  .attr("fill", C_BLUE).attr("stroke", "#fff").attr("stroke-width", 0.8);
axisL(yPI, pengInsetYTicks, 720.5, 4, 20);
axisB(xPI, pengInsetXTicks, 79.5, 12, 20);

// ---- left histogram (learning-based)
bg(xL, yS, BG);
grid(xL, [300, 200, 100], yS, [2, 4, 6, 8, 10, 12, 14]);
svg.append("g").selectAll("rect").data(learnCounts.map((c, i) => ({c, i})).filter(d => d.c > 0)).join("rect")
  .attr("y", d => yS(learnHistStart + (d.i + 1) * learnHistWidth)).attr("height", yS(0) - yS(learnHistWidth))
  .attr("x", d => xL(d.c)).attr("width", d => xL(0) - xL(d.c))
  .attr("fill", C_GREEN).attr("stroke", "#fff").attr("stroke-width", 0.8);
svg.append("line").attr("x1", 57).attr("x2", 187).attr("y1", yS(means.learn)).attr("y2", yS(means.learn)).call(dashMean);
mtext(svg, 57, 340, [["G", "i"], ["o", "si"], ["=3.68%", ""]], 21, {"letter-spacing": 0.8});
svg.append("rect").attr("x", xL(20)).attr("y", yS(15)).attr("width", xL(0) - xL(20)).attr("height", yS(8) - yS(15))
  .attr("fill", "#fff").attr("fill-opacity", 0.35).attr("stroke", "#222").attr("stroke-width", 1);
svg.append("line").attr("x1", xL(20)).attr("x2", 160).attr("y1", yS(11)).attr("y2", yS(11)).attr("stroke", "#111").attr("stroke-width", 1.1);
svg.append("path").attr("d", `M155,${yS(11)} l6,-3 l0,6 z`).attr("fill", "#111");
// left inset
bg(xLI, yLI, INSET_BG);
grid(xLI, [5], yLI, [10, 12]);
svg.append("clipPath").attr("id", "lclip").append("rect").attr("x", 90).attr("y", 154).attr("width", 63.3).attr("height", 112);
svg.append("g").attr("clip-path", "url(#lclip)").selectAll("rect").data(learnInsetCounts.map((c, i) => ({c, i})).filter(d => d.c > 0)).join("rect")
  .attr("y", d => yLI(learnInsetStart + (d.i + 1) * learnInsetWidth)).attr("height", yLI(8) - yLI(8 + learnInsetWidth))
  .attr("x", d => xLI(d.c)).attr("width", d => xLI(0) - xLI(d.c))
  .attr("fill", C_GREEN).attr("stroke", "#fff").attr("stroke-width", 0.8);
axisL(yLI, learnInsetYTicks, 90, 4, 20);
axisB(xLI, learnInsetXTicks, 266, 12, 20);

// ---- scatter panels
function scatter(xs, pts, diag, coreY, coreX, color, xt) {
  bg(xs, yS, BG);
  grid(xs, xt, yS, [2, 4, 6, 8, 10, 12, 14]);
  const all = [];
  coreY.forEach((y, r) => coreX[r].forEach(x => all.push({x, y})));
  pts.forEach(p => all.push({x: p[0], y: p[1]}));
  diag.forEach(v => all.push({x: v, y: v}));
  svg.append("g").selectAll("circle").data(all).join("circle")
    .attr("cx", d => xs(d.x)).attr("cy", d => yS(d.y)).attr("r", 1.8).attr("fill", color);
  const xmax = Math.min(xs.domain()[1], 16);
  svg.append("line").attr("x1", xs(0)).attr("y1", yS(0)).attr("x2", xs(xmax)).attr("y2", yS(xmax))
    .attr("stroke", "#000").attr("stroke-opacity", 0.32).attr("stroke-width", 1.2).attr("stroke-dasharray", "3.7,1.6");
}
scatter(xG, gomesPts, gomesDiag, gomesCoreY, gomesCoreX, C_GOLD, [2.5, 5, 7.5, 10, 12.5]);
scatter(xP, pengPts, pengDiag, pengCoreY, pengCoreX, C_TEAL, [5, 10, 15, 20, 25, 30, 35]);

const dAttr = {"letter-spacing": 1.1};
mtext(svg, 338, 205, [["δ", "i"], ["x", "si"], ["<", "s"], ["y", "si"], ["=" + deltas.gomesXY, ""]], 21, dAttr);
mtext(svg, 395, 276, [["δ", "i"], ["y", "si"], ["<", "s"], ["x", "si"], ["=" + deltas.gomesYX, ""]], 21, dAttr);
mtext(svg, 544, 165, [["δ", "i"], ["x", "si"], ["<", "s"], ["y", "si"], ["=" + deltas.pengXY, ""]], 21, dAttr);
mtext(svg, 669, 165, [["δ", "i"], ["y", "si"], ["<", "s"], ["x", "si"], ["=" + deltas.pengYX, ""]], 21, dAttr);

// axes labels / ticks
axisL(yS, yTicks, 57, 5, 20.5);
axisB(xL, leftFreqTicks, 421, 9, 20.5);
axisB(xG, gomesTicks, 421, 9, 20.5);
axisB(xP, pengTicks, 421, 9, 20.5);
svg.append("text").attr("x", 121).attr("y", 473).attr("text-anchor", "middle").attr("font-size", 24)
  .attr("letter-spacing", 0.4).attr("fill", "#111").text("Frequency");
mtext(svg, 364, 473, [["G", "i"], ["o,i", "si"], [" of Gomes's heuristic (%)", ""]], 24, {"text-anchor": "middle", "letter-spacing": 1.0});
mtext(svg, 703, 473, [["G", "i"], ["o,i", "si"], [" of Peng's heuristic (%)", ""]], 24, {"text-anchor": "middle", "letter-spacing": 1.0});
mtext(svg, 0, 0, [["G", "i"], ["o,i", "si"], [" of the learning-based heuristic (%)", ""]], 25,
  {"text-anchor": "middle", "letter-spacing": 1.2, "transform": "translate(22,264) rotate(-90)"});
</script></body></html>
